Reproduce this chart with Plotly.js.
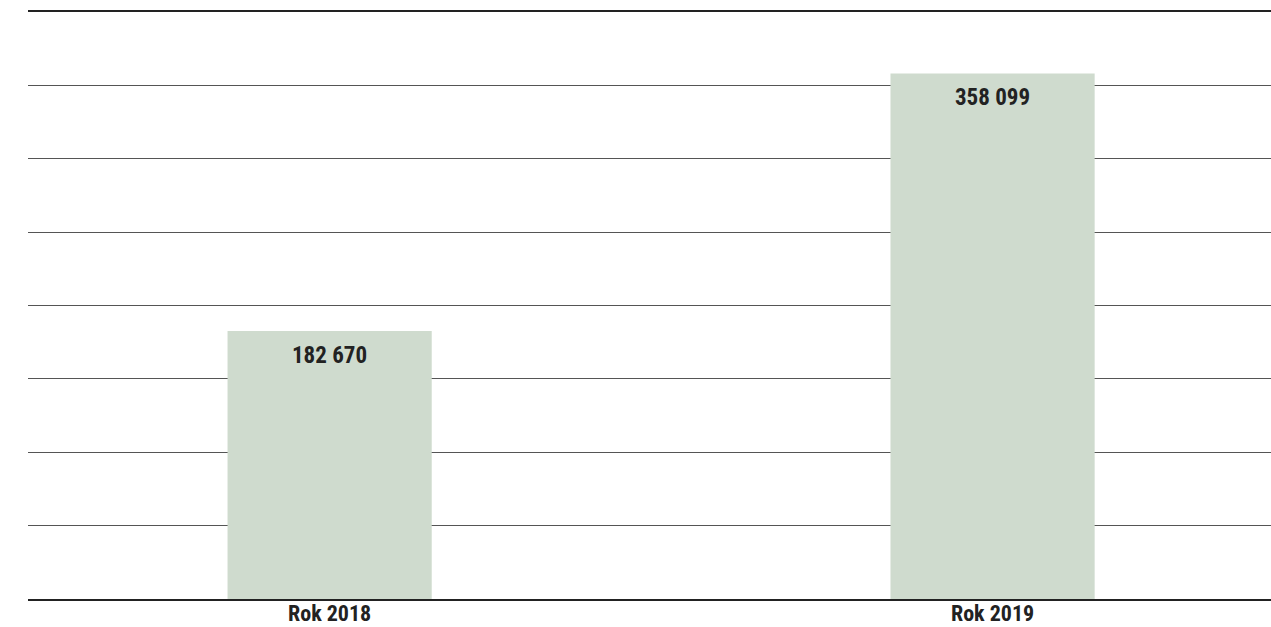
<!DOCTYPE html>
<html>
<head>
<meta charset="utf-8">
<script src="https://cdn.plot.ly/plotly-3.0.1.min.js"></script>
<style>html,body{margin:0;padding:0;background:#fff;}#chart{width:1271px;height:627px;}</style>
</head>
<body>
<div id="chart"></div>
<script>
const categories = ["Rok 2018", "Rok 2019"];
const values = [182670, 358099];

function fmt(v) {
  return String(v).replace(/\B(?=(\d{3})+(?!\d))/g, " ");
}

const FONT = "'Liberation Sans Narrow', 'Arial Narrow', 'Roboto Condensed', Arial, sans-serif";

const trace = {
  type: "bar",
  x: categories,
  y: values,
  marker: { color: "#cfdbce", line: { width: 0 } },
  hoverinfo: "none"
};

const annotations = categories.map((c, i) => ({
  x: c, y: values[i], xref: "x", yref: "y",
  text: fmt(values[i]),
  showarrow: false, yanchor: "top", yshift: -9,
  font: { family: FONT, size: 23, color: "#222222", weight: "bold" }
}));

const layout = {
  width: 1271, height: 627,
  margin: { l: 28, r: 0, t: 12, b: 28 },
  paper_bgcolor: "#ffffff", plot_bgcolor: "#ffffff",
  showlegend: false,
  bargap: 0.692,
  xaxis: {
    type: "category",
    range: [-0.455, 1.42],
    showgrid: false,
    showline: true, linecolor: "#222222", linewidth: 2, mirror: true,
    ticks: "", ticklen: 0,
    ticklabelstandoff: -6,
    tickfont: { family: FONT, size: 22, color: "#222222", weight: "bold" },
    zeroline: false, fixedrange: true
  },
  yaxis: {
    range: [0, 400000],
    dtick: 50000,
    showgrid: true, gridcolor: "#555555", gridwidth: 1,
    showticklabels: false, ticks: "",
    zeroline: false, showline: false, fixedrange: true
  },
  annotations: annotations
};

Plotly.newPlot("chart", [trace], layout, { staticPlot: true, displayModeBar: false });
</script>
</body>
</html>
